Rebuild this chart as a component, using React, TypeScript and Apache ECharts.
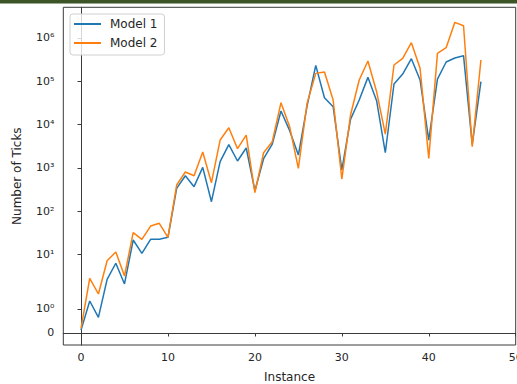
import React, { useEffect, useRef } from "react";
import * as echarts from "echarts";

const model1 = [
  0.12, 1.33, 0.65, 2.68, 6.3, 2.1, 21.7, 10.7, 22.5, 22.5,
  25, 337, 661, 369, 1030, 166, 1393, 3436, 1445, 2884,
  298, 1633, 3550, 20560, 7240, 1985, 26800, 232800, 41700, 25900,
  895, 13200, 36900, 123000, 35500, 2240, 86300, 147000, 332000, 107000,
  4400, 112000, 278000, 344000, 389000, 3500, 98000,
];
const model2 = [
  0.19, 2.83, 1.62, 7.2, 11.5, 3.2, 32, 22.4, 45.5, 52.6,
  25, 403, 804, 661, 2328, 456, 4400, 8470, 2780, 5740,
  268, 2240, 4030, 32000, 8900, 977, 30900, 152000, 163000, 36900,
  554, 16600, 107000, 293000, 57400, 6050, 237000, 337000, 776000, 199000,
  1660, 440000, 596000, 2290000, 1910000, 3090, 309000,
];
const yTickValues = [0, 1, 10, 100, 1000, 10000, 100000, 1000000];
const yTickLabels = ["0", "10⁰", "10¹", "10²", "10³", "10⁴", "10⁵", "10⁶"];
const xTickValues = [0, 10, 20, 30, 40, 50];
const seriesNames = ["Model 1", "Model 2"];

// matplotlib symlog transform (linthresh=2, linscale=1, base 10)
const LINTHRESH = 2;
const LINSCALE = 1 / (1 - 1 / 10);
const symlog = (v: number) =>
  v <= LINTHRESH ? (v * LINSCALE) / LINTHRESH : LINSCALE + Math.log10(v / LINTHRESH);

const yTickPos = yTickValues.map(symlog);

export default function App() {
  const ref = useRef<HTMLDivElement>(null);
  useEffect(() => {
    if (!ref.current) return;
    const chart = echarts.init(ref.current, null, { renderer: "svg" });
    const font = "DejaVu Sans";
    const textColor = "#262626";
    const frame = "#3a3a3a";
    chart.setOption({
      animation: false,
      backgroundColor: "#ffffff",
      textStyle: { fontFamily: font },
      graphic: [
        {
          type: "rect",
          shape: { x: 0, y: 0, width: 517, height: 3.5 },
          style: { fill: "#3b5526" },
          z: 100,
        },
      ],
      grid: {
        left: 63.3,
        right: 1.3,
        top: 7.3,
        bottom: 39,
        containLabel: false,
        outerBoundsMode: "none",
        show: true,
        borderColor: frame,
        borderWidth: 1,
        backgroundColor: "transparent",
      },
      legend: {
        left: 70,
        top: 14,
        orient: "vertical",
        data: seriesNames,
        icon: "rect",
        itemWidth: 27,
        itemHeight: 2,
        itemGap: 5,
        backgroundColor: "rgba(255,255,255,0.8)",
        borderColor: "#d0d0d0",
        borderWidth: 1,
        borderRadius: 3,
        padding: [3, 7, 5, 4],
        textStyle: {
          fontFamily: font,
          fontSize: 12,
          color: textColor,
          lineHeight: 14,
          padding: [0, 0, 0, 4],
        },
      },
      xAxis: {
        type: "value",
        min: -2.04,
        max: 50,
        name: "Instance",
        nameLocation: "middle",
        nameGap: 26,
        nameTextStyle: { fontFamily: font, fontSize: 12, color: textColor },
        axisLine: { show: true, lineStyle: { color: frame, width: 1 } },
        axisTick: {
          show: true,
          length: 3.5,
          inside: false,
          customValues: xTickValues,
          lineStyle: { color: frame },
        },
        axisLabel: {
          customValues: xTickValues,
          fontFamily: font,
          fontSize: 11,
          color: textColor,
          margin: 7,
        },
        splitLine: { show: false },
      },
      yAxis: {
        type: "value",
        min: -0.277,
        max: 7.517,
        name: "Number of Ticks",
        nameLocation: "middle",
        nameGap: 40,
        nameTextStyle: { fontFamily: font, fontSize: 12, color: textColor },
        axisLine: { show: true, lineStyle: { color: frame, width: 1 } },
        axisTick: {
          show: true,
          length: 3.5,
          inside: false,
          customValues: yTickPos,
          lineStyle: { color: frame },
        },
        axisLabel: {
          customValues: yTickPos,
          fontFamily: font,
          fontSize: 11,
          color: textColor,
          margin: 9,
          formatter: (val: number) => {
            const i = yTickPos.findIndex((p) => Math.abs(p - val) < 1e-6);
            return i >= 0 ? yTickLabels[i] : "";
          },
        },
        splitLine: { show: false },
      },
      series: [
        {
          name: seriesNames[0],
          type: "line",
          data: model1.map((v, i) => [i, symlog(v)]),
          symbol: "none",
          lineStyle: { color: "#1f77b4", width: 1.5 },
          itemStyle: { color: "#1f77b4" },
        },
        {
          name: seriesNames[1],
          type: "line",
          data: model2.map((v, i) => [i, symlog(v)]),
          symbol: "none",
          lineStyle: { color: "#ff7f0e", width: 1.5 },
          itemStyle: { color: "#ff7f0e" },
        },
      ],
    });
    return () => chart.dispose();
  }, []);
  return (
    <div
      ref={ref}
      style={{ position: "absolute", left: 0, top: 0, width: 517, height: 384 }}
    />
  );
}
